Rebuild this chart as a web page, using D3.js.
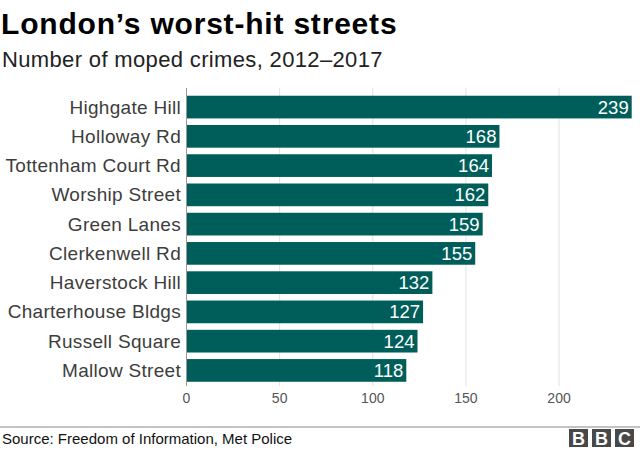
<!DOCTYPE html>
<html><head><meta charset="utf-8">
<script src="https://cdn.jsdelivr.net/npm/d3@7"></script>
<style>body{margin:0;background:#fff;} text{font-family:"Liberation Sans",Arial,Helvetica,sans-serif;}</style>
</head><body>
<svg id="c" width="640" height="450"></svg>
<script>
const streets = ["Highgate Hill","Holloway Rd","Tottenham Court Rd","Worship Street","Green Lanes","Clerkenwell Rd","Haverstock Hill","Charterhouse Bldgs","Russell Square","Mallow Street"];
const crimes = [239,168,164,162,159,155,132,127,124,118];
const xTicks = [0,50,100,150,200];

const svg = d3.select("#c");
const x = d3.scaleLinear().domain([0,239]).range([186.5,631.7]);
const y = d3.scaleBand().domain(streets).range([92.8,384.7]).paddingInner(0.224).paddingOuter(0.1);

svg.append("text").attr("x",1).attr("y",34).attr("font-size",30).attr("letter-spacing",0.8).attr("font-weight","bold").attr("fill","#000").text("London\u2019s worst-hit streets");
svg.append("text").attr("x",2).attr("y",67).attr("font-size",22).attr("letter-spacing",0.35).attr("fill","#222").text("Number of moped crimes, 2012\u20132017");

// gridlines
svg.append("g").selectAll("line").data(xTicks.slice(1)).join("line")
  .attr("x1",d=>x(d)).attr("x2",d=>x(d)).attr("y1",88).attr("y2",386)
  .attr("stroke","#e2e2e2").attr("stroke-width",1);

// bars
svg.append("g").selectAll("rect").data(streets).join("rect")
  .attr("x",x(0)).attr("y",d=>y(d)).attr("width",(d,i)=>x(crimes[i])-x(0)).attr("height",y.bandwidth())
  .attr("fill","#005e5a");

// axis line at zero
svg.append("line").attr("x1",x(0)).attr("x2",x(0)).attr("y1",88).attr("y2",386).attr("stroke","#999").attr("stroke-width",1);

// value labels
svg.append("g").selectAll("text").data(streets).join("text")
  .attr("x",(d,i)=>x(crimes[i])-3).attr("y",d=>y(d)+y.bandwidth()/2+6.5)
  .attr("text-anchor","end").attr("font-size",18.5).attr("fill","#fff")
  .text((d,i)=>crimes[i]);

// category labels
svg.append("g").selectAll("text").data(streets).join("text")
  .attr("x",181).attr("y",d=>y(d)+y.bandwidth()/2+6.5)
  .attr("text-anchor","end").attr("font-size",19).attr("letter-spacing",0.3).attr("fill","#3d3d3d")
  .text(d=>d);

// x tick labels
svg.append("g").selectAll("text").data(xTicks).join("text")
  .attr("x",d=>x(d)).attr("y",403).attr("text-anchor","middle").attr("font-size",14).attr("fill","#555")
  .text(d=>d);

// footer
svg.append("line").attr("x1",0).attr("x2",640).attr("y1",427).attr("y2",427).attr("stroke","#888").attr("stroke-width",1.2);
svg.append("text").attr("x",2).attr("y",444).attr("font-size",15).attr("fill","#111").text("Source: Freedom of Information, Met Police");
const logo = svg.append("g");
["B","B","C"].forEach((l,i)=>{
  logo.append("rect").attr("x",569+i*23).attr("y",429).attr("width",19).attr("height",18).attr("fill","#484848");
  logo.append("text").attr("x",569+i*23+9.5).attr("y",444.5).attr("text-anchor","middle").attr("font-size",18).attr("font-weight","bold").attr("fill","#fff").text(l);
});
</script>
</body></html>
